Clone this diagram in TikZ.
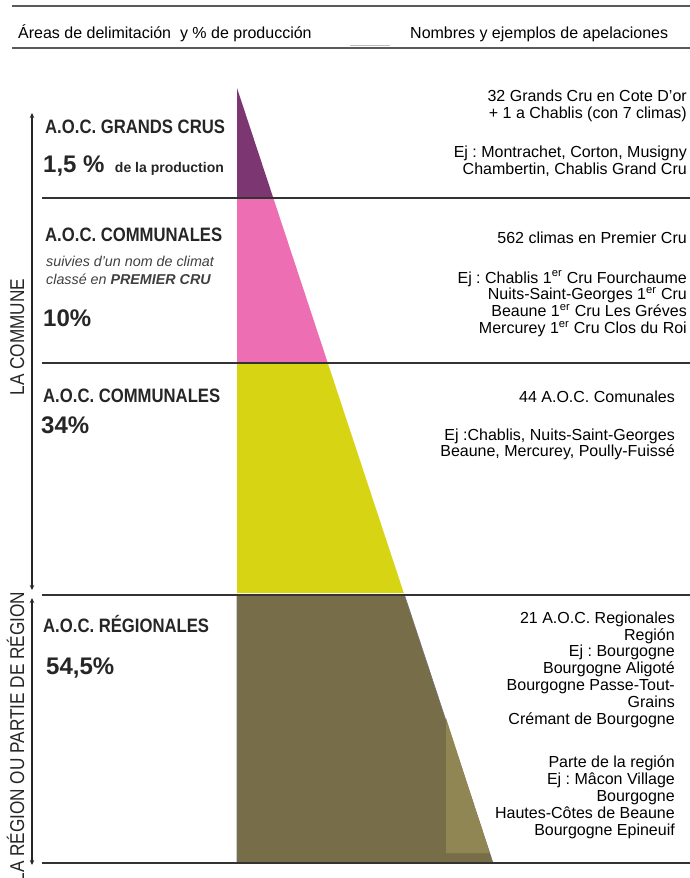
\documentclass[tikz,border=0pt]{standalone}
\usepackage{fontspec}
\setmainfont{Liberation Sans}
\newfontfamily\narrowfont[FakeStretch=0.86]{Liberation Sans}
\usetikzlibrary{arrows.meta,positioning}
\frenchspacing
\definecolor{grandcru}{RGB}{124,54,114}
\definecolor{premiercru}{RGB}{237,110,178}
\definecolor{communale}{RGB}{215,212,20}
\definecolor{regionale}{RGB}{119,109,72}
\definecolor{partregion}{RGB}{143,134,84}
\definecolor{rulegray}{RGB}{90,90,90}
\tikzset{
    header/.style ={
        anchor=base west,
        inner sep=0pt,
        font=\fontsize{16}{17}\selectfont
    },
    level/.style ={
        anchor=base west,
        inner sep=0pt,
        text=black!85,
        font=\narrowfont\bfseries\fontsize{19.4}{22}\selectfont
    },
    share/.style ={
        anchor=base west,
        inner sep=0pt,
        text=black!85,
        font=\bfseries\fontsize{24}{26}\selectfont
    },
    note/.style ={
        anchor=base west,
        inner sep=0pt,
        text=black!75,
        font=\itshape\fontsize{14.3}{16}\selectfont
    },
    examples/.style ={
        anchor=north east,
        inner sep=0pt,
        align=right,
        font=\fontsize{16}{16.8}\selectfont
    },
    areaname/.style ={
        rotate=90,
        anchor=base,
        inner sep=0pt,
        text=black!85,
        font=\narrowfont\fontsize{20}{22}\selectfont
    },
    headline/.style ={draw=rulegray, line width=2.4pt},
    sepline/.style ={draw=black!80, line width=1.4pt},
    arealimit/.style ={
        draw=black!85,
        line width=1.3pt,
        arrows={Stealth[length=5pt,width=4.5pt]-Stealth[length=5pt,width=4.5pt]}
    }
}

\begin{document}
\begin{tikzpicture}[x=1pt,y=-1pt]
    \useasboundingbox[fill=white] (0,0) rectangle (690,878);

    % header
    \coordinate (htopw) at (12,6);
    \coordinate (htope) at (690,6);
    \coordinate (hbotw) at (12,48);
    \coordinate (hbote) at (690,48);
    \coordinate (hgapw) at (350,45.5);
    \coordinate (hgape) at (390,45.5);
    \draw[headline] (htopw) -- (htope);
    \draw[headline] (hbotw) -- (hbote);
    \draw[draw=black!25, line width=1.5pt] (hgapw) -- (hgape);
    \node[header] (hleft) at (18,38) {Áreas de delimitación\ \ y \% de producción};
    \node[header] (hright) at (410,38) {Nombres y ejemplos de apelaciones};

    % pyramid
    \fill[grandcru] (237,88) -- (273.3,198) -- (237,198) -- cycle;
    \fill[premiercru] (237,198) -- (273.3,198) -- (327.8,363) -- (237,363) -- cycle;
    \fill[communale] (237,363) -- (327.8,363) -- (403.8,593) -- (237,593) -- cycle;
    \filldraw[fill=regionale, draw=black!55, line width=0.6pt]
        (237,595) -- (404.5,595) -- (493,863) -- (237,863) -- cycle;
    \fill[partregion] (446,718) -- (446,853) -- (489.7,853) -- cycle;

    % separators
    \coordinate (sep1w) at (42,198);
    \coordinate (sep1e) at (690,198);
    \coordinate (sep2w) at (42,363);
    \coordinate (sep2e) at (690,363);
    \coordinate (sep3w) at (42,595);
    \coordinate (sep3e) at (690,595);
    \coordinate (sep4w) at (42,863);
    \coordinate (sep4e) at (690,863);
    \foreach \s in {1,2,3,4}
        \draw[sepline] (sep\s w) -- (sep\s e);

    % area arrows
    \coordinate (comtop) at (32,113);
    \coordinate (combot) at (32,590);
    \coordinate (regtop) at (32,598);
    \coordinate (regbot) at (32,865);
    \draw[arealimit] (comtop) -- (combot);
    \draw[arealimit] (regtop) -- (regbot);
    \node[areaname] (commune) at (24,337) {LA COMMUNE};
    \node[areaname] (region) at (24,737) {LA RÉGION OU PARTIE DE RÉGION};

    % left labels
    \node[level] (gclabel) at (45,133) {A.O.C. GRANDS CRUS};
    \node[share] (gcshare) at (43,172) {1,5 \%};
    \node[share, font=\bfseries\fontsize{14}{16}\selectfont,
          right=10pt of gcshare.base east, anchor=base west] (gcprod) {de la production};
    \node[level] (pclabel) at (45,241) {A.O.C. COMMUNALES};
    \node[note] (pcnote1) at (46,266) {suivies d'un nom de climat};
    \node[note] (pcnote2) at (46,284) {classé en \textbf{PREMIER CRU}};
    \node[share] (pcshare) at (43,326) {10\%};
    \node[level] (colabel) at (43,402) {A.O.C. COMMUNALES};
    \node[share] (coshare) at (41,433) {34\%};
    \node[level] (rglabel) at (43,632) {A.O.C. RÉGIONALES};
    \node[share] (rgshare) at (46,674) {54,5\%};

    % right texts
    \node[examples] (gcex) at (687,89.5) {32 Grands Cru en Cote D'or\\
        + 1 a Chablis (con 7 climas)\\[23pt]
        Ej : Montrachet, Corton, Musigny\\
        Chambertin, Chablis Grand Cru};
    \node[examples] (pcex) at (687,231.5) {562 climas en Premier Cru\\[23pt]
        Ej : Chablis 1\textsuperscript{er} Cru Fourchaume\\
        Nuits-Saint-Georges 1\textsuperscript{er} Cru\\
        Beaune 1\textsuperscript{er} Cru Les Gréves\\
        Mercurey 1\textsuperscript{er} Cru Clos du Roi};
    \node[examples] (coex) at (675,390.5) {44 A.O.C. Comunales\\[21pt]
        Ej :Chablis, Nuits-Saint-Georges\\
        Beaune, Mercurey, Poully-Fuissé};
    \node[examples] (rgex) at (675,611.5) {21 A.O.C. Regionales\\
        Región\\
        Ej : Bourgogne\\
        Bourgogne Aligoté\\
        Bourgogne Passe-Tout-\\
        Grains\\
        Crémant de Bourgogne\\[27pt]
        Parte de la región\\
        Ej : Mâcon Village\\
        Bourgogne\\
        Hautes-Côtes de Beaune\\
        Bourgogne Epineuif};
\end{tikzpicture}
\end{document}
